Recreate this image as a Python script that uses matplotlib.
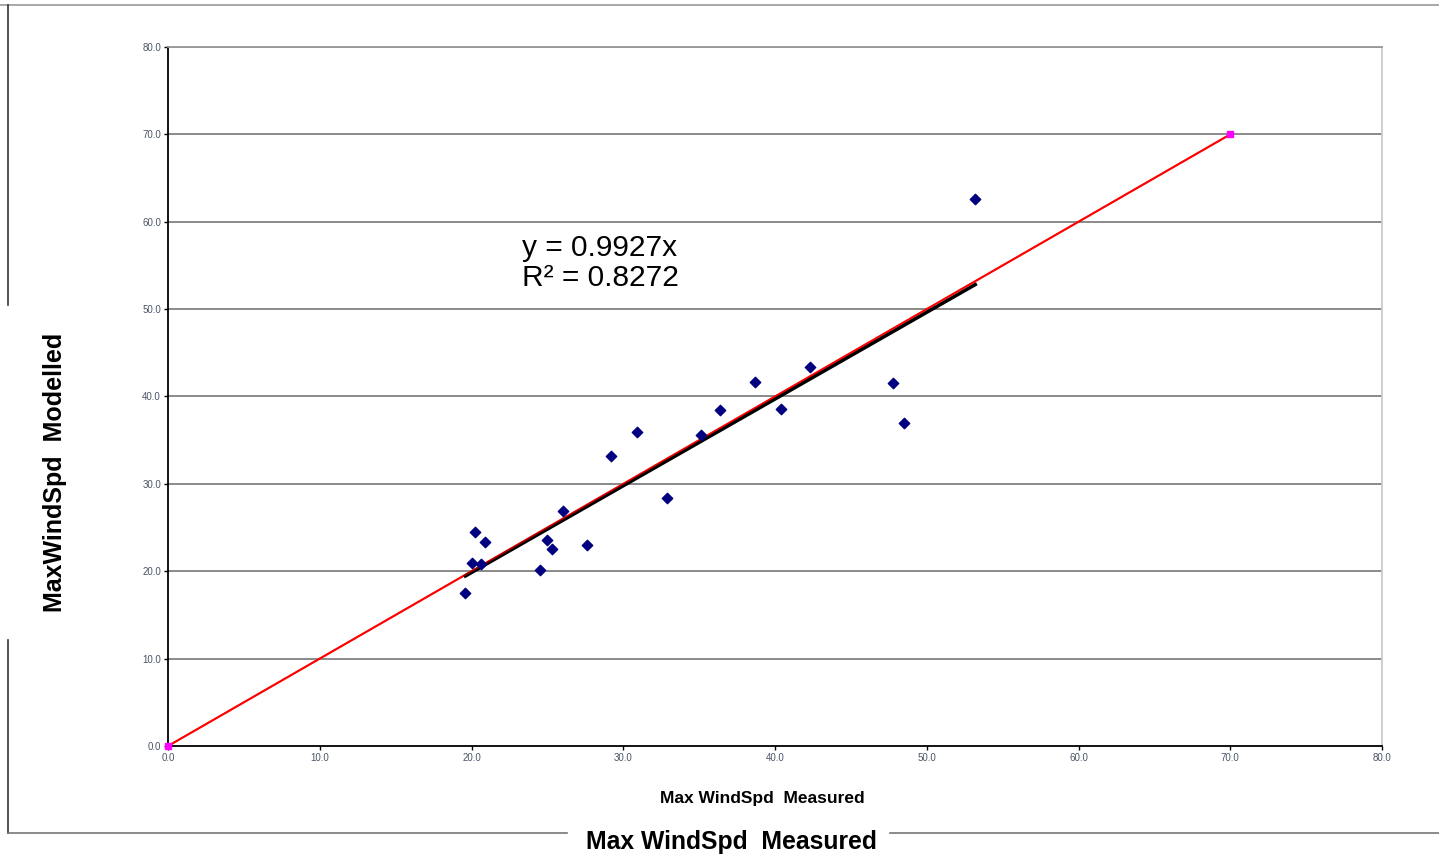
"""Scatter of modelled vs measured max wind speed, Excel style."""
import matplotlib.pyplot as plt
from matplotlib.lines import Line2D

measured = [19.6, 20.0, 20.2, 20.6, 20.9, 24.5, 25.0, 25.3, 26.0, 27.6,
            29.2, 30.9, 32.9, 35.1, 36.4, 38.7, 40.4, 42.3, 47.8, 48.5, 53.2]
modelled = [17.5, 21.0, 24.5, 20.8, 23.4, 20.1, 23.6, 22.5, 26.9, 23.0,
            33.2, 35.9, 28.4, 35.6, 38.5, 41.7, 38.6, 43.4, 41.5, 37.0, 62.6]

ref_x = [0.0, 70.0]  # 1:1 line
ref_y = [0.0, 70.0]
slope = 0.9927
r2 = 0.8272

W, H = 1439, 855


def px(x, y):
    return x / W, 1 - y / H


def plot():
    plt.rcParams['font.family'] = ['Liberation Sans', 'DejaVu Sans']
    fig = plt.figure(figsize=(14.39, 8.55), dpi=100)
    ax = fig.add_axes([168 / W, 1 - 746 / H, (1382 - 168) / W, (746 - 47) / H])

    # outer chart frame, broken where the big titles sit
    def seg(p0, p1, color):
        (xa, ya), (xb, yb) = px(*p0), px(*p1)
        fig.add_artist(Line2D([xa, xb], [ya, yb], color=color, lw=1.2))

    seg((0, 5), (W, 5), '#999999')
    seg((8, 5), (8, 305), '#333333')
    seg((8, 640), (8, 833), '#333333')
    seg((8, 833), (567, 833), '#777777')
    seg((890, 833), (W, 833), '#777777')

    for yv in range(10, 81, 10):
        ax.axhline(yv, color='#777777', lw=1.2, zorder=1)

    ax.plot(ref_x, ref_y, color='#ff0000', lw=1.5, zorder=2)
    ax.plot(ref_x, ref_y, ls='none', marker='s', ms=5, color='#ff00ff', zorder=6,
            clip_on=False)

    x0, x1 = min(measured), max(measured)
    ax.plot([x0, x1], [slope * x0, slope * x1], color='black', lw=2.5, zorder=2)
    ax.plot(ref_x, ref_y, color='#ff0000', lw=1.2, zorder=3, alpha=0.6)

    ax.scatter(measured, modelled, marker='D', s=28, color='#000080', zorder=5)

    ax.text(23.3, 55.3, 'y = 0.9927x\nR² = 0.8272', fontsize=21.5, color='black',
            linespacing=1.1, va='center')

    ax.set_xlim(0, 80)
    ax.set_ylim(0, 80)
    ax.set_xticks(range(0, 81, 10))
    ax.set_yticks(range(0, 81, 10))
    ax.set_xticklabels(['%.1f' % v for v in range(0, 81, 10)])
    ax.set_yticklabels(['%.1f' % v for v in range(0, 81, 10)])
    ax.tick_params(labelsize=7, labelcolor='#4a5566', length=3, width=1, pad=2)

    ax.spines['left'].set_color('black')
    ax.spines['bottom'].set_color('black')
    ax.spines['top'].set_color('#999999')
    ax.spines['right'].set_color('#cccccc')
    for s in ax.spines.values():
        s.set_linewidth(1.3)

    fig.text(*px(762, 798), 'Max WindSpd  Measured', fontsize=12.5,
             fontweight='bold', ha='center', va='center')
    fig.text(*px(731, 842), 'Max WindSpd  Measured', fontsize=17.8,
             fontweight='bold', ha='center', va='center')
    fig.text(*px(55, 472), 'MaxWindSpd  Modelled', fontsize=18,
             fontweight='bold', ha='center', va='center', rotation=90)

    plt.savefig('out.png', dpi=100)


if __name__ == "__main__":
    plot()
